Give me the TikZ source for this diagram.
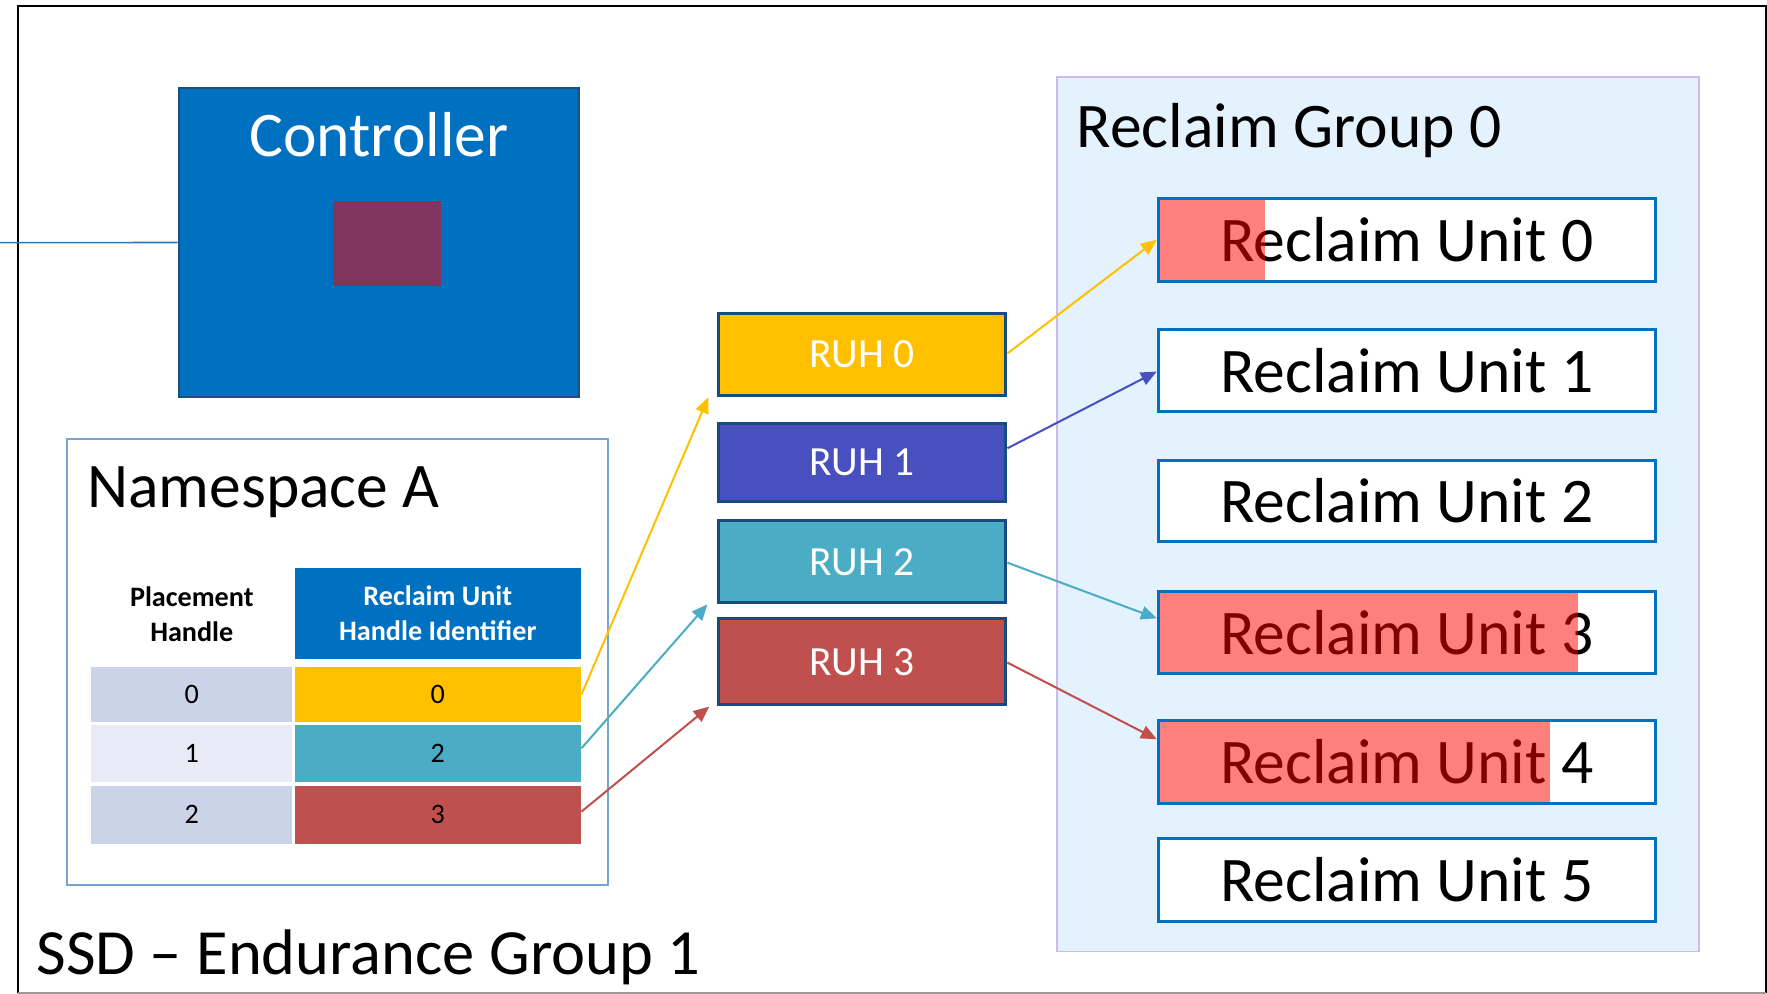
\documentclass[tikz,border=0pt]{standalone}
\usepackage{fontspec}
\setmainfont{Carlito}
\usetikzlibrary{arrows.meta,calc}
\definecolor{ctrlblue}{RGB}{0,112,192}
\definecolor{ctrlborder}{RGB}{31,78,121}
\definecolor{chip}{RGB}{128,53,94}
\definecolor{ruhyellow}{RGB}{255,192,0}
\definecolor{ruhblue}{RGB}{72,80,192}
\definecolor{ruhteal}{RGB}{75,172,198}
\definecolor{ruhred}{RGB}{192,80,77}
\definecolor{ruhborder}{RGB}{23,75,130}
\definecolor{rublue}{RGB}{0,112,192}
\definecolor{nsborder}{RGB}{120,165,205}
\definecolor{rgfill}{RGB}{227,242,253}
\definecolor{rgborder}{RGB}{205,185,235}
\definecolor{rowdark}{RGB}{203,211,232}
\definecolor{rowlight}{RGB}{232,235,245}
\definecolor{linkblue}{RGB}{46,117,182}
\tikzset{
  sz/.style 2 args={minimum width=#1*0.5pt, minimum height=#2*0.5pt},
  bigfont/.style={font=\fontsize{28.2}{34}\selectfont},
  ruhbox/.style={draw=ruhborder, line width=1.35pt, text=white, font=\fontsize{18.4}{22}\selectfont, inner sep=0pt},
  rubox/.style={draw=rublue, fill=white, line width=1.35pt, font=\fontsize{28.2}{34}\selectfont, inner sep=0pt},
  cell/.style={inner sep=0pt, font=\fontsize{12.5}{15}\selectfont},
  hdr/.style={inner sep=0pt, align=center, font=\fontsize{12.5}{15.5}\selectfont\bfseries},
  conn/.style={line width=0.9pt, -{Triangle[length=7pt,width=6pt]}},
  fillpart/.style={fill=red, fill opacity=0.5},
}
\begin{document}
\begin{tikzpicture}[x=0.5pt,y=-0.5pt]
\useasboundingbox (0,0) rectangle (1568,882);
% outer frame
\draw[black, line width=0.9pt] (16.3,881.5) -- (16.3,5) -- (1566.8,5) -- (1566.8,881.5);
\draw[gray!80, line width=0.9pt] (16.3,881.5) -- (1566.8,881.5);
\node[bigfont, font=\fontsize{28.6}{34}\selectfont, anchor=base west, inner sep=0pt] (ssdlabel) at (32,864.3) {SSD – Endurance Group 1};

% controller
\node[fill=ctrlblue, draw=ctrlborder, line width=0.9pt, sz={355.5}{274.5}] (ctrl) at (336.2,215.2) {};
\node[bigfont, text=white, anchor=base, inner sep=0pt] (ctrllabel) at (336.3,139) {Controller};
\node[fill=chip, sz={95.8}{74.8}, inner sep=0pt] (chip) at (343.3,216.1) {};
\coordinate (hostend) at (0,215.3);
\draw[linkblue, line width=0.7pt] (hostend) -- (ctrl.west);

% namespace
\node[draw=nsborder, line width=0.9pt, sz={480}{395.5}] (ns) at (299.8,587.6) {};
\node[bigfont, anchor=base west, inner sep=0pt] (nslabel) at (77,450.2) {Namespace A};
\node[hdr] (h1) at (170.2,545.2) {Placement\\Handle};
\node[hdr, fill=ctrlblue, text=white, sz={254.2}{80.2}] (h2) at (388.5,544.4) {Reclaim Unit\\Handle Identifier};
\node[cell, fill=rowdark, sz={178.1}{48.8}] (c01) at (170.2,616.3) {0};
\node[cell, fill=ruhyellow, sz={254.2}{48.8}] (c02) at (388.5,616.3) {0};
\node[cell, fill=rowlight, sz={178.1}{50.8}] (c11) at (170.2,668.8) {1};
\node[cell, fill=ruhteal, sz={254.2}{50.8}] (c12) at (388.5,668.8) {2};
\node[cell, fill=rowdark, sz={178.1}{51.5}] (c21) at (170.2,723) {2};
\node[cell, fill=ruhred, sz={254.2}{51.5}] (c22) at (388.5,723) {3};

% RUHs
\node[ruhbox, fill=ruhyellow, sz={255.2}{73.3}] (ruh0) at (765,314.6) {RUH 0};
\node[ruhbox, fill=ruhblue, sz={255.2}{69.7}] (ruh1) at (765,410.4) {RUH 1};
\node[ruhbox, fill=ruhteal, sz={255.2}{72.8}] (ruh2) at (765,498.5) {RUH 2};
\node[ruhbox, fill=ruhred, sz={255.2}{76}] (ruh3) at (765,587.2) {RUH 3};

% reclaim group
\node[fill=rgfill, draw=rgborder, line width=0.8pt, sz={569.9}{775.7}] (rg) at (1222.7,456.5) {};
\node[bigfont, anchor=base west, inner sep=0pt] (rglabel) at (955,130.7) {Reclaim Group 0};
\node[rubox, sz={441.2}{73.3}] (ru0) at (1248.4,212.8) {Reclaim Unit 0};
\node[rubox, sz={441.2}{72.7}] (ru1) at (1248.4,328.5) {Reclaim Unit 1};
\node[rubox, sz={441.2}{72.1}] (ru2) at (1248.4,444.7) {Reclaim Unit 2};
\node[rubox, sz={441.2}{72.7}] (ru3) at (1248.4,561) {Reclaim Unit 3};
\node[rubox, sz={441.2}{73.3}] (ru4) at (1248.4,676.3) {Reclaim Unit 4};
\node[rubox, sz={441.2}{73.3}] (ru5) at (1248.4,781) {Reclaim Unit 5};
\fill[fillpart] ($(ru0.north west)+(2.7,2.7)$) rectangle ($(ru0.south west)+(96,-2.7)$);
\fill[fillpart] ($(ru3.north west)+(2.7,2.7)$) rectangle ($(ru3.south west)+(373.7,-2.7)$);
\fill[fillpart] ($(ru4.north west)+(2.7,2.7)$) rectangle ($(ru4.south west)+(349,-2.7)$);

% connectors
\coordinate (tip0) at (628.5,352.6);
\coordinate (tip2) at (627.7,536.3);
\coordinate (tip3) at (629.4,627);
\draw[conn, ruhyellow] (c02.east) -- (tip0);
\draw[conn, ruhteal] ([yshift=2.4pt]c12.east) -- (tip2);
\draw[conn, ruhred] ([yshift=1.4pt]c22.east) -- (tip3);
\draw[conn, ruhyellow] ([yshift=0.5pt]ruh0.east) -- (ru0.west);
\draw[conn, ruhblue] ([yshift=6.3pt]ruh1.east) -- ([yshift=-0.6pt]ru1.west);
\draw[conn, ruhteal] ([yshift=-0.4pt]ruh2.east) -- ([yshift=6.15pt]ru3.west);
\draw[conn, ruhred] ([yshift=-0.4pt]ruh3.east) -- ([yshift=10.15pt]ru4.west);
\end{tikzpicture}
\end{document}
